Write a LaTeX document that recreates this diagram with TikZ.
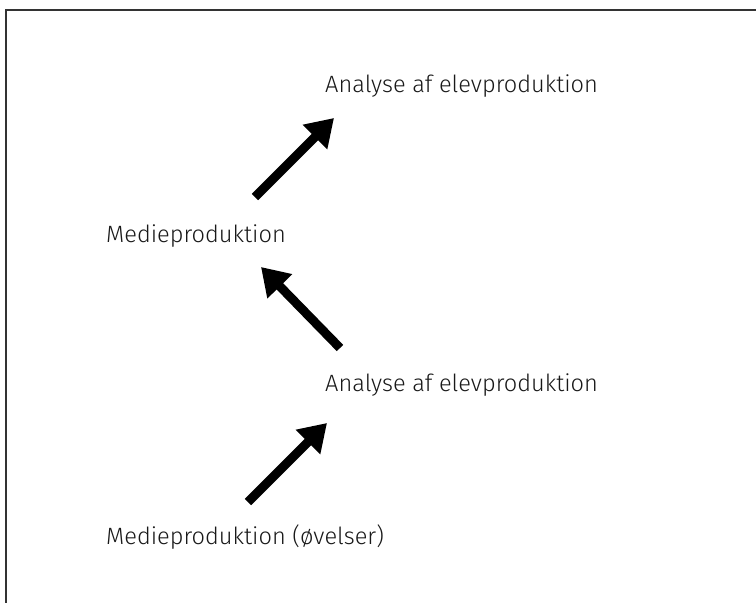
\documentclass[tikz,border=0pt]{standalone}
\usepackage{fontspec}
\setmainfont{Fira Sans}[UprightFont=* Light]
\usetikzlibrary{arrows.meta}
\begin{document}
\begin{tikzpicture}[x=1pt,y=-1pt,
  lbl/.style={anchor=base west,inner sep=0pt,font=\fontsize{23.6}{28}\selectfont,text=black!90},
  bigarrow/.style={line width=9pt,-{Triangle[length=27pt,width=33pt]}},
  frameline/.style={line width=2pt,black!80}]
\useasboundingbox (0,0) rectangle (756,603);
\draw[frameline] (6,603) -- (6,10) -- (756,10);
\node[lbl] (a1) at (325,92) {Analyse af elevproduktion};
\node[lbl] (m1) at (106,242) {Medieproduktion};
\node[lbl] (a2) at (325,391) {Analyse af elevproduktion};
\node[lbl] (m2) at (106,544) {Medieproduktion (øvelser)};
\coordinate (s1) at (255,197); \coordinate (t1) at (334,118);
\coordinate (s2) at (340,348); \coordinate (t2) at (261,267);
\coordinate (s3) at (248,502); \coordinate (t3) at (327,423);
\draw[bigarrow] (s1) -- (t1);
\draw[bigarrow] (s2) -- (t2);
\draw[bigarrow] (s3) -- (t3);
\end{tikzpicture}
\end{document}
